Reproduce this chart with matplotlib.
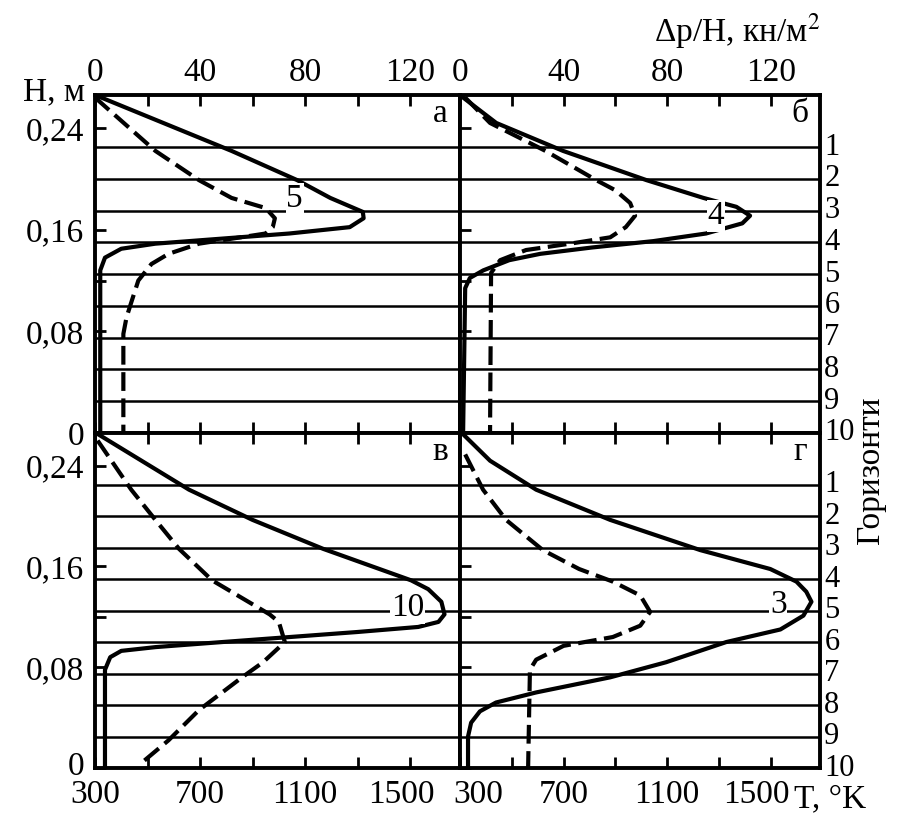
import numpy as np
import matplotlib.pyplot as plt
from matplotlib.transforms import ScaledTranslation

plt.rcParams['font.family'] = ['Liberation Serif', 'DejaVu Serif']
plt.rcParams['mathtext.fontset'] = 'stix'
plt.rcParams['font.size'] = 24

# horizons (m)
horizon_h = [0.225, 0.2, 0.175, 0.15, 0.125, 0.1, 0.075, 0.05, 0.025, 0.0]
horizon_lbl = ['1', '2', '3', '4', '5', '6', '7', '8', '9', '10']

# panel а : T (K) solid, dp/H (kN/m2) dashed
a_T_h = [0.266, 0.222, 0.199, 0.185, 0.174, 0.169, 0.162, 0.157, 0.153, 0.149, 0.145, 0.138, 0.128, 0.0]
a_T = [300, 820, 1070, 1196, 1320, 1323, 1270, 1040, 785, 530, 400, 338, 320, 320]
a_p_h = [0.264, 0.222, 0.199, 0.185, 0.177, 0.169, 0.162, 0.157, 0.149, 0.141, 0.133, 0.120, 0.104, 0.091, 0.078, 0.0]
a_p = [0, 23, 39.6, 52, 65, 68.5, 67.7, 65, 39.6, 28, 21.5, 16.5, 14, 12, 10.8, 10.8]

# panel б
b_T_h = [0.264, 0.244, 0.222, 0.199, 0.185, 0.178, 0.171, 0.165, 0.157, 0.151, 0.146, 0.141, 0.136, 0.128, 0.122, 0.114, 0.0]
b_T = [312, 440, 698, 1020, 1240, 1367, 1420, 1390, 1250, 1046, 810, 610, 490, 390, 338, 320, 312]
b_p_h = [0.264, 0.244, 0.222, 0.199, 0.191, 0.181, 0.171, 0.162, 0.154, 0.149, 0.144, 0.136, 0.126, 0.0]
b_p = [2, 11.6, 33, 52.6, 60, 65.7, 67.6, 64, 58, 42.5, 25.5, 15.5, 12, 11.6]

# panel в
c_T_h = [0.265, 0.221, 0.197, 0.174, 0.149, 0.142, 0.132, 0.122, 0.116, 0.112, 0.108, 0.104, 0.100, 0.096, 0.093, 0.088, 0.078, 0.0]
c_T = [312, 658, 900, 1169, 1504, 1569, 1619, 1631, 1608, 1531, 1300, 1042, 784, 531, 400, 358, 338, 338]
c_p_h = [0.260, 0.221, 0.197, 0.174, 0.149, 0.122, 0.116, 0.100, 0.084, 0.072, 0.046, 0.022, 0.004]
c_p = [1, 13.8, 23, 32, 44.6, 66.5, 70, 72.3, 64, 56, 39.6, 28, 17.7]

# panel г
d_T_h = [0.265, 0.244, 0.221, 0.197, 0.173, 0.158, 0.148, 0.140, 0.132, 0.121, 0.110, 0.100, 0.084, 0.072, 0.060, 0.052, 0.045, 0.036, 0.025, 0.0]
d_T = [312, 416, 594, 880, 1228, 1498, 1599, 1637, 1657, 1626, 1537, 1328, 1096, 880, 594, 439, 377, 343, 331, 331]
d_p_h = [0.249, 0.221, 0.197, 0.173, 0.158, 0.148, 0.137, 0.124, 0.113, 0.104, 0.097, 0.086, 0.078, 0.0]
d_p = [2, 8.9, 17.8, 32, 46, 59, 69.6, 73.4, 69.6, 59, 40, 29.4, 27, 26.3]

panels = [
    ('а', a_T_h, a_T, a_p_h, a_p, '5', 1060, 0.184),
    ('б', b_T_h, b_T, b_p_h, b_p, '4', 1289, 0.171),
    ('в', c_T_h, c_T, c_p_h, c_p, '10', 1490, 0.127),
    ('г', d_T_h, d_T, d_p_h, d_p, '3', 1529, 0.130),
]

fig = plt.figure(figsize=(9.04, 8.19), dpi=100)
x0, xm, x1 = 95 / 904, 460 / 904, 820 / 904
y1, ym, y0 = 1 - 95 / 819, 1 - 433 / 819, 1 - 768 / 819
boxes = [
    [x0, ym, xm - x0, y1 - ym],
    [xm, ym, x1 - xm, y1 - ym],
    [x0, y0, xm - x0, ym - y0],
    [xm, y0, x1 - xm, ym - y0],
]


def nudge(txt, dx, dy):
    txt.set_transform(txt.get_transform()
                      + ScaledTranslation(dx / 100, dy / 100, fig.dpi_scale_trans))


for i, (letter, th, tv, ph, pv, curve_lbl, lx, ly) in enumerate(panels):
    ax = fig.add_axes(boxes[i])
    axp = ax.twiny()
    top = i < 2
    left = i % 2 == 0

    for h in horizon_h[:-1]:
        ax.axhline(h, color='black', lw=1.8, zorder=1)

    ax.plot(tv, th, color='black', lw=3.0, zorder=3, solid_joinstyle='round')
    axp.plot(pv, ph, color='black', lw=3.0, ls=(0, (4.5, 1.8)), zorder=3)

    ax.set_xlim(300, 1690)
    axp.set_xlim(0, 139)
    ax.set_ylim(0, 0.266)

    for sp in ax.spines.values():
        sp.set_linewidth(2.8)
    for sp in axp.spines.values():
        sp.set_visible(False)

    ax.set_xticks(np.arange(300, 1700, 200),
                  ['300', '', '700', '', '1100', '', '1500'])
    axp.set_xticks(np.arange(0, 140, 20),
                   ['0', '', '40', '', '80', '', '120'])
    ax.tick_params(axis='both', direction='in', length=8, width=2)
    ax.tick_params(axis='x', pad=8, labelbottom=not top)
    axp.tick_params(axis='x', direction='in', length=8, width=2, pad=5, labeltop=top)

    ax.set_yticks([0, 0.08, 0.12, 0.16, 0.24], ['0', '0,08', '', '0,16', '0,24'])
    ax.tick_params(axis='y', labelleft=left, pad=8)

    if not top:
        shifts = {0: 18, 6: -14} if not left else {6: -9}
        labels = ax.get_xticklabels()
        for k, dx in shifts.items():
            nudge(labels[k], dx, 0)
        if left:
            nudge(ax.get_yticklabels()[0], 0, 5)

    if not left:
        for h, s in zip(horizon_h, horizon_lbl):
            ax.text(1.012, h, s, transform=ax.get_yaxis_transform(),
                    ha='left', va='center', fontsize=22)

    ax.text(0.945, 0.945, letter, transform=ax.transAxes, ha='center', va='center')
    ax.text(lx, ly, curve_lbl, ha='center', va='center', zorder=4,
            bbox=dict(facecolor='white', edgecolor='none', pad=0.5))

fig.text(0.094, 0.888, 'H, м', ha='right', va='center')
fig.text(0.815, 0.962, 'Δp/H, кн/м$^2$', ha='center', va='center')
fig.text(0.878, 0.024, 'T, °K', ha='left', va='center')
fig.text(0.963, 0.426, 'Горизонти', rotation=90, ha='center', va='center')

fig.savefig('out.png', dpi=100)
